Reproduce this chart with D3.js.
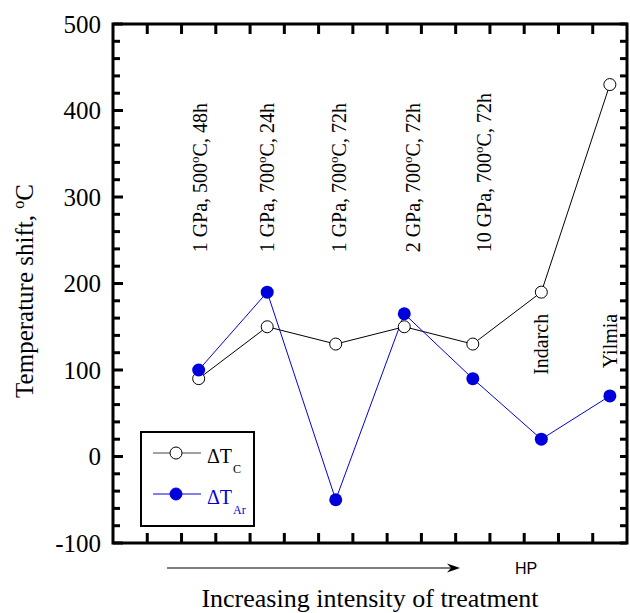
<!DOCTYPE html>
<html><head><meta charset="utf-8">
<script src="https://cdn.jsdelivr.net/npm/d3@7"></script>
<style>body{margin:0;background:#fff}svg{display:block}</style>
</head><body>
<script>
// ---- data ----
const xPositions = [2.5, 4.5, 6.5, 8.5, 10.5, 12.5, 14.5];
const deltaTC  = [90, 150, 130, 150, 130, 190, 430];
const deltaTAr = [100, 190, -50, 165, 90, 20, 70];
const treatmentLabels = [
  {x: 2.53, pre: "1 GPa, 500", post: "C, 48h"},
  {x: 4.49, pre: "1 GPa, 700", post: "C, 24h"},
  {x: 6.59, pre: "1 GPa, 700", post: "C, 72h"},
  {x: 8.75, pre: "2 GPa, 700", post: "C, 72h"},
  {x: 10.83, pre: "10 GPa, 700", post: "C, 72h"}
];
const meteoriteLabels = [{x: 12.5, text: "Indarch"}, {x: 14.5, text: "Yilmia"}];
const yTicks = [-100, 0, 100, 200, 300, 400, 500];

const W = 630, H = 613;
const m = {left: 113, right: 627, top: 24, bottom: 543};
const svg = d3.select("body").append("svg").attr("width", W).attr("height", H);
const x = d3.scaleLinear().domain([0, 15]).range([m.left, m.right]);
const y = d3.scaleLinear().domain([-100, 500]).range([m.bottom, m.top]);
const serif = "'Liberation Serif','Times New Roman',serif";
const blue = "#0000dc";

// ticks
const minorY = d3.range(-100, 501, 20);
const g = svg.append("g").attr("stroke", "#000").attr("stroke-width", 3);
minorY.forEach(v => {
  const len = (v % 100 === 0) ? 10 : 7;
  g.append("line").attr("x1", m.left).attr("x2", m.left + len).attr("y1", y(v)).attr("y2", y(v));
  g.append("line").attr("x1", m.right).attr("x2", m.right - 7).attr("y1", y(v)).attr("y2", y(v));
});
d3.range(1, 15).forEach(v => {
  g.append("line").attr("x1", x(v)).attr("x2", x(v)).attr("y1", m.top).attr("y2", m.top + 10);
  g.append("line").attr("x1", x(v)).attr("x2", x(v)).attr("y1", m.bottom).attr("y2", m.bottom - 10);
});
svg.append("rect").attr("x", m.left).attr("y", m.top).attr("width", m.right - m.left).attr("height", m.bottom - m.top)
  .attr("fill", "none").attr("stroke", "#000").attr("stroke-width", 3);

// y tick labels
svg.append("g").selectAll("text").data(yTicks).join("text")
  .attr("x", m.left - 12).attr("y", d => y(d)).attr("dy", "0.35em").attr("fill", "#000")
  .attr("text-anchor", "end").attr("font-family", serif).attr("font-size", 25).text(d => d);

// treatment labels
treatmentLabels.forEach(l => {
  const t = svg.append("text").attr("transform", `translate(${x(l.x) + 7},${y(236)}) rotate(-90)`)
    .attr("font-family", serif).attr("font-size", 20).attr("fill", "#000");
  t.append("tspan").text(l.pre);
  t.append("tspan").attr("dy", -8).attr("font-size", 13).text("o");
  t.append("tspan").attr("dy", 8).text(l.post);
});
meteoriteLabels.forEach(l => {
  svg.append("text").attr("transform", `translate(${x(l.x) + 7},${y(165)}) rotate(-90)`)
    .attr("text-anchor", "end").attr("font-family", serif).attr("font-size", 20).attr("fill", "#000").text(l.text);
});

// series
const line = d3.line().x((d, i) => x(xPositions[i])).y(d => y(d));
svg.append("path").datum(deltaTC).attr("d", line).attr("fill", "none").attr("stroke", "#000").attr("stroke-width", 1);
svg.append("path").datum(deltaTAr).attr("d", line).attr("fill", "none").attr("stroke", blue).attr("stroke-width", 1);
svg.append("g").selectAll("circle").data(deltaTC).join("circle")
  .attr("cx", (d, i) => x(xPositions[i])).attr("cy", d => y(d)).attr("r", 6)
  .attr("fill", "#fff").attr("stroke", "#000").attr("stroke-width", 1);
svg.append("g").selectAll("circle").data(deltaTAr).join("circle")
  .attr("cx", (d, i) => x(xPositions[i])).attr("cy", d => y(d)).attr("r", 6.5)
  .attr("fill", blue);

// legend
const lg = svg.append("g");
lg.append("rect").attr("x", 141).attr("y", 432).attr("width", 113).attr("height", 94)
  .attr("fill", "#fff").attr("stroke", "#000").attr("stroke-width", 2);
const legendItems = [
  {name: "C", color: "#000", fill: "#fff", yy: 453, textColor: "#000"},
  {name: "Ar", color: blue, fill: blue, yy: 494, textColor: blue}
];
legendItems.forEach(it => {
  lg.append("line").attr("x1", 153).attr("x2", 201).attr("y1", it.yy).attr("y2", it.yy)
    .attr("stroke", it.color === "#000" ? "#444" : it.color).attr("stroke-width", 1);
  lg.append("circle").attr("cx", 176).attr("cy", it.yy).attr("r", 6)
    .attr("fill", it.fill).attr("stroke", it.color).attr("stroke-width", 1);
  const t = lg.append("text").attr("x", 207).attr("y", it.yy + 9.5).attr("font-family", serif)
    .attr("font-size", 20).attr("fill", it.textColor);
  t.append("tspan").text("\u0394T");
  t.append("tspan").attr("dy", 10).attr("dx", 1).attr("font-size", 12).text(it.name);
});

// arrow
const ax1 = 167, ax2 = 460, ay = 568;
svg.append("line").attr("x1", ax1).attr("x2", ax2 - 4).attr("y1", ay).attr("y2", ay).attr("stroke", "#000").attr("stroke-width", 1.2);
svg.append("path").attr("d", `M${ax2},${ay} L${ax2 - 13},${ay - 4.5} L${ax2 - 9},${ay} L${ax2 - 13},${ay + 4.5} Z`).attr("fill", "#000");
svg.append("text").attr("x", 526).attr("y", 574).attr("text-anchor", "middle").attr("fill", "#000")
  .attr("font-family", "'Liberation Sans',Arial,sans-serif").attr("font-size", 16).text("HP");

// axis titles
svg.append("text").attr("x", (m.left + m.right) / 2).attr("y", 607).attr("text-anchor", "middle").attr("fill", "#000")
  .attr("font-family", serif).attr("font-size", 26).text("Increasing intensity of treatment");
const yt = svg.append("text").attr("transform", `translate(33,${291}) rotate(-90)`).attr("text-anchor", "middle")
  .attr("font-family", serif).attr("font-size", 25).attr("fill", "#000");
yt.append("tspan").text("Temperature shift, ");
yt.append("tspan").attr("dy", -9).attr("font-size", 16).text("o");
yt.append("tspan").attr("dy", 9).text("C");
</script>
</body></html>
